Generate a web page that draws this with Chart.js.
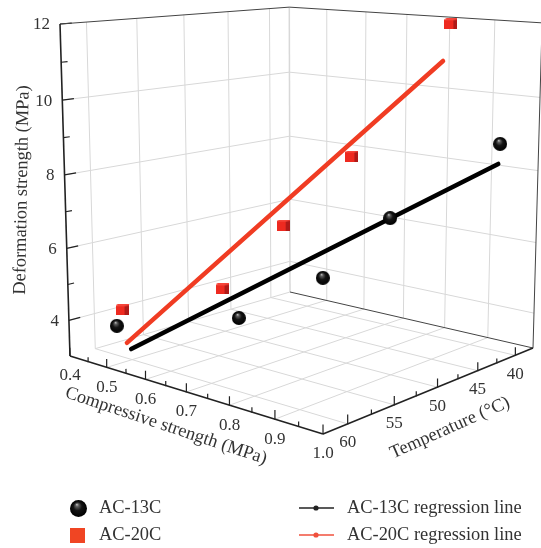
<!DOCTYPE html>
<html>
<head>
<meta charset="utf-8">
<style>
  html, body { margin: 0; background: #fff; }
  canvas { display: block; }
</style>
</head>
<body>
<canvas id="myChart" width="541" height="548"></canvas>
<script src="https://cdn.jsdelivr.net/npm/chart.js@4"></script>
<script>
// values
var temperature = [60, 55, 50, 45, 40];
var strength13 = [0.461, 0.651, 0.745, 0.803, 0.957];
var deform13 = [3.83, 4.21, 5.21, 6.69, 8.77];
var strength20 = [0.476, 0.61, 0.65, 0.713, 0.845];
var deform20 = [4.32, 4.9, 6.45, 8.25, 11.9];

// regression line ends (T = 60 and T = 40)
var lineTemp = [60, 40];
var lineStrength13 = [0.498, 0.954];
var lineDeform13 = [3.29, 8.22];
var lineStrength20 = [0.487, 0.829];
var lineDeform20 = [3.43, 10.87];

// axis ticks
var strengthTicks = [0.4, 0.5, 0.6, 0.7, 0.8, 0.9, 1.0];
var strengthMinor = [0.45, 0.55, 0.65, 0.75, 0.85, 0.95];
var tempTicks = [60, 55, 50, 45, 40];
var tempMinor = [57.5, 52.5, 47.5, 42.5];
var deformTicks = [4, 6, 8, 10, 12];
var deformMinor = [5, 7, 9, 11];

var seriesNames = ["AC-13C", "AC-20C", "AC-13C regression line", "AC-20C regression line"];

// axis ranges of the 3D box
var sMin = 0.4, sMax = 1.0, tFront = 62.5, tBack = 37.5, dMin = 3, dMax = 12;

// perspective of the box, from its corners in the picture
var q = [[70, 356], [323, 434], [533, 348], [290, 292]];
var topCorner = [60, 24];
var wPersp = -0.04;

var dx1 = q[1][0] - q[2][0], dx2 = q[3][0] - q[2][0], sx = q[0][0] - q[1][0] + q[2][0] - q[3][0];
var dy1 = q[1][1] - q[2][1], dy2 = q[3][1] - q[2][1], sy = q[0][1] - q[1][1] + q[2][1] - q[3][1];
var den = dx1 * dy2 - dx2 * dy1;
var g = (sx * dy2 - dx2 * sy) / den;
var h = (dx1 * sy - sx * dy1) / den;
var a = q[1][0] - q[0][0] + g * q[1][0], b = q[3][0] - q[0][0] + h * q[3][0];
var d = q[1][1] - q[0][1] + g * q[1][1], e = q[3][1] - q[0][1] + h * q[3][1];
var m = topCorner[0] * (1 + wPersp) - q[0][0], n = topCorner[1] * (1 + wPersp) - q[0][1];

function project(s, t, z) {
  var u = (s - sMin) / (sMax - sMin);
  var v = (tFront - t) / (tFront - tBack);
  var w = (z - dMin) / (dMax - dMin);
  var k = g * u + h * v + 1 + wPersp * w;
  return {
    x: (a * u + b * v + q[0][0] + m * w) / k,
    y: (d * u + e * v + q[0][1] + n * w) / k,
  };
}

function makeSphere(size) {
  var c = document.createElement("canvas");
  c.width = c.height = size;
  var x = c.getContext("2d");
  var r = size / 2;
  var grad = x.createRadialGradient(r * 0.8, r * 0.5, 0, r, r, r);
  grad.addColorStop(0, "#c8c8c8");
  grad.addColorStop(0.2, "#5c5c5c");
  grad.addColorStop(0.5, "#141414");
  grad.addColorStop(1, "#000");
  x.fillStyle = grad;
  x.beginPath();
  x.arc(r, r, r, 0, Math.PI * 2);
  x.fill();
  return c;
}

function makeCube() {
  var c = document.createElement("canvas");
  c.width = 13;
  c.height = 11;
  var x = c.getContext("2d");
  x.fillStyle = "#ee2a20";
  x.fillRect(0, 1, 9, 10);
  x.fillStyle = "#b01a18";
  x.fillRect(9, 1, 4, 10);
  x.fillStyle = "#f5453a";
  x.beginPath();
  x.moveTo(0, 1.5);
  x.lineTo(2, 0);
  x.lineTo(13, 0);
  x.lineTo(13, 1);
  x.lineTo(9, 2);
  x.lineTo(0, 2);
  x.fill();
  return c;
}

var sphereImg = makeSphere(14);
var legendSphere = makeSphere(17);
var cubeImg = makeCube();

var datasets = [];

function addLine(p1, p2, color, width, order) {
  datasets.push({
    data: [p1, p2],
    showLine: true,
    borderColor: color,
    borderWidth: width,
    pointRadius: 0,
    order: order,
  });
}

var gridColor = "#d8d8d8";
var frameColor = "#222";

// grid on the two walls and the floor
strengthTicks.slice(1, -1).forEach(function (s) {
  addLine(project(s, tBack, dMin), project(s, tBack, dMax), gridColor, 1, 5);
  addLine(project(s, tFront, dMin), project(s, tBack, dMin), gridColor, 1, 5);
});
tempTicks.forEach(function (t) {
  addLine(project(sMin, t, dMin), project(sMin, t, dMax), gridColor, 1, 5);
  addLine(project(sMin, t, dMin), project(sMax, t, dMin), gridColor, 1, 5);
});
deformTicks.slice(0, -1).forEach(function (z) {
  addLine(project(sMin, tFront, z), project(sMin, tBack, z), gridColor, 1, 5);
  addLine(project(sMin, tBack, z), project(sMax, tBack, z), gridColor, 1, 5);
});
addLine(project(sMin, tBack, dMin), project(sMin, tBack, dMax), gridColor, 1.5, 5);
addLine(project(sMin, tempTicks[0], dMin), project(sMin, tBack, dMin), gridColor, 1, 5);

// box frame
addLine(project(sMin, tFront, dMin), project(sMin, tFront, dMax), frameColor, 1.6, 4);
addLine(project(sMin, tFront, dMin), project(sMax, tFront, dMin), frameColor, 1.6, 4);
addLine(project(sMax, tFront, dMin), project(sMax, tBack, dMin), frameColor, 1.6, 4);
addLine(project(sMin, tBack, dMin), project(sMax, tBack, dMin), "#444", 1, 4);
addLine(project(sMin, tFront, dMax), project(sMin, tBack, dMax), "#444", 1, 4);
addLine(project(sMin, tBack, dMax), project(sMax, tBack, dMax), "#444", 1, 4);
addLine(project(sMax, tBack, dMin), project(sMax, tBack, dMax), "#444", 1, 4);

// ticks
strengthTicks.forEach(function (s) {
  addLine(project(s, tFront, dMin), project(s, tFront, dMin + 0.23), frameColor, 1.2, 4);
});
strengthMinor.forEach(function (s) {
  addLine(project(s, tFront, dMin), project(s, tFront, dMin + 0.12), frameColor, 1.2, 4);
});
tempTicks.forEach(function (t) {
  addLine(project(sMax, t, dMin), project(sMax, t, dMin + 0.23), frameColor, 1.2, 4);
});
tempMinor.forEach(function (t) {
  addLine(project(sMax, t, dMin), project(sMax, t, dMin + 0.12), frameColor, 1.2, 4);
});
deformTicks.forEach(function (z) {
  addLine(project(sMin, tFront, z), project(sMin, tFront - 1.1, z), frameColor, 1.2, 4);
});
deformMinor.forEach(function (z) {
  addLine(project(sMin, tFront, z), project(sMin, tFront - 0.6, z), frameColor, 1.2, 4);
});

// regression lines
datasets.push({
  label: seriesNames[2],
  data: lineTemp.map(function (t, i) { return project(lineStrength13[i], t, lineDeform13[i]); }),
  showLine: true,
  borderColor: "#000",
  borderWidth: 4.5,
  borderCapStyle: "round",
  pointRadius: 0,
  order: 3,
});
datasets.push({
  label: seriesNames[3],
  data: lineTemp.map(function (t, i) { return project(lineStrength20[i], t, lineDeform20[i]); }),
  showLine: true,
  borderColor: "#f03c23",
  borderWidth: 4.5,
  borderCapStyle: "round",
  pointRadius: 0,
  order: 2,
});

// measured points
datasets.push({
  label: seriesNames[0],
  data: temperature.map(function (t, i) { return project(strength13[i], t, deform13[i]); }),
  pointStyle: sphereImg,
  pointRadius: 7,
  showLine: false,
  order: 1,
});
datasets.push({
  label: seriesNames[1],
  data: temperature.map(function (t, i) { return project(strength20[i], t, deform20[i]); }),
  pointStyle: cubeImg,
  pointRadius: 7,
  showLine: false,
  order: 0,
});

var textColor = "#333";
var serif = '"Liberation Serif", serif';

function rotatedText(ctx, text, x, y, angle) {
  ctx.save();
  ctx.translate(x, y);
  ctx.rotate(angle * Math.PI / 180);
  ctx.fillText(text, 0, 0);
  ctx.restore();
}

// tick labels, axis titles and legend
var labelsPlugin = {
  id: "labels3d",
  afterDraw: function (chart) {
    var ctx = chart.ctx;
    var sc = chart.scales;
    ctx.save();
    ctx.fillStyle = textColor;
    ctx.font = "17px " + serif;
    ctx.textBaseline = "middle";
    ctx.textAlign = "right";
    deformTicks.forEach(function (z) {
      var p = project(sMin, tFront, z);
      ctx.fillText(String(z), sc.x.getPixelForValue(p.x) - 10, sc.y.getPixelForValue(p.y) + 1);
    });
    ctx.textAlign = "center";
    strengthTicks.forEach(function (s) {
      var p = project(s, tFront, dMin);
      ctx.fillText(s.toFixed(1), sc.x.getPixelForValue(p.x), sc.y.getPixelForValue(p.y) + 20);
    });
    tempTicks.forEach(function (t) {
      var p = project(sMax, t, dMin);
      ctx.fillText(String(t), sc.x.getPixelForValue(p.x), sc.y.getPixelForValue(p.y) + 19);
    });

    ctx.font = "18.4px " + serif;
    rotatedText(ctx, "Deformation strength (MPa)", 22, 190, -89);
    rotatedText(ctx, "Compressive strength (MPa)", 166, 426, 18.5);
    rotatedText(ctx, "Temperature (°C)", 450, 428, -24);

    // legend
    ctx.textAlign = "left";
    ctx.drawImage(legendSphere, 70, 500);
    ctx.fillStyle = "#f04523";
    ctx.fillRect(70, 528, 15, 15);
    ctx.fillStyle = textColor;
    ctx.fillText(seriesNames[0], 99, 508);
    ctx.fillText(seriesNames[1], 99, 535);
    ctx.fillText(seriesNames[2], 347, 508);
    ctx.fillText(seriesNames[3], 347, 535);
    [[508, "#222"], [535, "#f0503c"]].forEach(function (row) {
      ctx.strokeStyle = row[1];
      ctx.fillStyle = row[1];
      ctx.lineWidth = 1.3;
      ctx.beginPath();
      ctx.moveTo(299, row[0]);
      ctx.lineTo(334, row[0]);
      ctx.stroke();
      ctx.beginPath();
      ctx.arc(316, row[0], 2.6, 0, Math.PI * 2);
      ctx.fill();
    });
    ctx.restore();
  },
};

var chart = new Chart(document.getElementById("myChart").getContext("2d"), {
  type: "scatter",
  data: { datasets: datasets },
  options: {
    responsive: false,
    animation: false,
    layout: { padding: 0, autoPadding: false },
    plugins: { legend: { display: false }, tooltip: { enabled: false } },
    scales: {
      x: { display: false, min: 0, max: 541 },
      y: { display: false, min: 0, max: 548, reverse: true },
    },
  },
  plugins: [labelsPlugin],
});
</script>
</body>
</html>
